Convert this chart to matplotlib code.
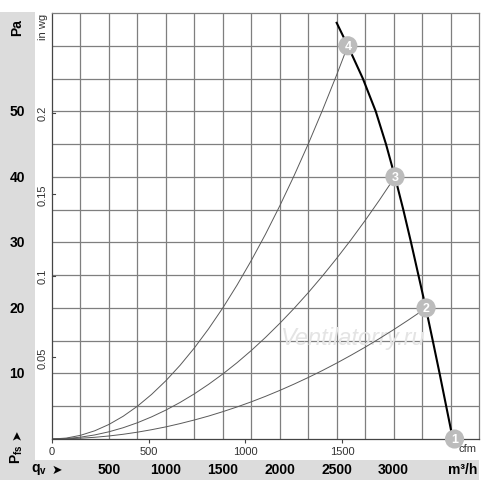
import matplotlib
matplotlib.use("Agg")
import matplotlib.pyplot as plt
from matplotlib.patches import Rectangle

plt.rcParams['font.family'] = ['Liberation Sans', 'DejaVu Sans']

# fan curve (m3/h, Pa)
fan_q = [2500, 2598, 2730, 2843, 2933, 3012, 3085, 3153, 3218, 3283, 3344, 3404, 3462, 3520]
fan_p = [63.5, 60.0, 55.0, 50.0, 45.0, 40.0, 35.0, 30.0, 25.0, 20.0, 15.0, 10.0, 5.0, 0.0]

# system curves
sys4_q = [0, 125, 250, 375, 500, 625, 750, 875, 1000, 1125, 1250, 1375, 1500, 1625,
          1750, 1875, 2000, 2125, 2250, 2375, 2500, 2598]
sys4_p = [0, 0.14, 0.56, 1.25, 2.22, 3.47, 5.0, 6.81, 8.89, 11.25, 13.89, 16.81, 20.0,
          23.48, 27.23, 31.25, 35.56, 40.14, 45.0, 50.15, 55.56, 60.0]
sys3_q = [0, 125, 250, 375, 500, 625, 750, 875, 1000, 1125, 1250, 1375, 1500, 1625,
          1750, 1875, 2000, 2125, 2250, 2375, 2500, 2625, 2750, 2875, 3000, 3012]
sys3_p = [0, 0.07, 0.28, 0.62, 1.10, 1.72, 2.48, 3.38, 4.41, 5.58, 6.89, 8.34, 9.92,
          11.64, 13.50, 15.50, 17.64, 19.91, 22.32, 24.87, 27.56, 30.38, 33.34, 36.44,
          39.68, 40.0]
sys2_q = [0, 125, 250, 375, 500, 625, 750, 875, 1000, 1125, 1250, 1375, 1500, 1625,
          1750, 1875, 2000, 2125, 2250, 2375, 2500, 2625, 2750, 2875, 3000, 3125, 3250, 3285]
sys2_p = [0, 0.03, 0.12, 0.26, 0.46, 0.72, 1.04, 1.42, 1.85, 2.35, 2.90, 3.50, 4.17,
          4.89, 5.67, 6.51, 7.41, 8.37, 9.38, 10.45, 11.58, 12.77, 14.01, 15.32, 16.68,
          18.10, 19.57, 20.0]

# operating points
op_labels = ['1', '2', '3', '4']
op_q = [3535, 3285, 3012, 2598]
op_p = [0.0, 20.0, 40.0, 60.0]

pa_ticks = [10, 20, 30, 40, 50]
m3h_ticks = [500, 1000, 1500, 2000, 2500, 3000]
cfm_ticks = [0, 500, 1000, 1500]
inwg_ticks = [0.05, 0.1, 0.15, 0.2]

CFM = 1.699
INWG = 249.09
grid_c = '#7f7f7f'
panel_c = '#dcdcdc'

fig = plt.figure(figsize=(5.0, 4.81), dpi=100)
fig.patch.set_facecolor('white')

# grey label panels
fig.patches.append(Rectangle((0, 0), 35 / 500, 1 - 13 / 481, transform=fig.transFigure,
                             facecolor=panel_c, edgecolor='none', zorder=0))
fig.patches.append(Rectangle((0, 0), 479 / 500, 20 / 481, transform=fig.transFigure,
                             facecolor=panel_c, edgecolor='none', zorder=0))

ax = fig.add_axes([52 / 500, 1 - 440 / 481, 427 / 500, 426 / 481])
ax.set_xlim(0, 3750)
ax.set_ylim(0, 65)
for v in range(250, 3750, 250):
    ax.axvline(v, color=grid_c, lw=0.9, zorder=1)
for v in range(5, 65, 5):
    ax.axhline(v, color=grid_c, lw=0.9, zorder=1)
for s in ax.spines.values():
    s.set_color(grid_c)
    s.set_linewidth(0.9)
ax.spines['bottom'].set_color('#444444')
ax.spines['left'].set_color('#444444')

ax.set_yticks([])
ax.set_xticks([c * CFM for c in cfm_ticks])
ax.set_xticklabels([str(c) for c in cfm_ticks], fontsize=8, color='#333333')
ax.tick_params(axis='x', length=3, width=0.8, color='#444444', pad=2)
ax.text(3645, -1.4, 'cfm', fontsize=8, color='#333333', ha='center', va='center')

# in wg ticks
for w in inwg_ticks:
    ax.plot([0, 25], [w * INWG, w * INWG], color='#444444', lw=0.8, clip_on=False, zorder=3)
    ax.text(-80, w * INWG, f'{w:g}', rotation=90, fontsize=8, color='#333333',
            ha='center', va='center')
ax.text(-80, 63.0, 'in wg', rotation=90, fontsize=8, color='#333333', ha='center', va='center')

# curves
ax.plot(sys4_q, sys4_p, color='#5a5a5a', lw=0.7, zorder=2)
ax.plot(sys3_q, sys3_p, color='#5a5a5a', lw=0.7, zorder=2)
ax.plot(sys2_q, sys2_p, color='#5a5a5a', lw=0.7, zorder=2)
ax.plot(fan_q, fan_p, color='black', lw=1.5, zorder=3)

for lab, q, p in zip(op_labels, op_q, op_p):
    ax.scatter([q], [p], s=190, color='#bcbcbc', edgecolors='none', zorder=4, clip_on=False)
    ax.text(q, p, lab, color='white', fontsize=9, fontweight='bold', ha='center',
            va='center', zorder=5)

ax.text(2650, 15.5, 'Ventilatorry.ru', fontsize=17, style='italic', color='#e4e4e4',
        ha='center', va='center', zorder=1.5)

# left panel labels
fig.text(17 / 500, 1 - 28 / 481, 'Pa', rotation=90, fontsize=10, fontweight='bold',
         ha='center', va='center')
for p in pa_ticks:
    yf = (440 - p * 426 / 65) / 481
    fig.text(17 / 500, 1 - yf, str(p), fontsize=10, fontweight='bold', ha='center', va='center')
fig.text(17 / 500, 1 - 454 / 481, 'P$_{\\mathregular{fs}}$', rotation=90, fontsize=10,
         fontweight='bold', ha='center', va='center')
fig.text(17 / 500, 1 - 435 / 481, '➤', rotation=90, fontsize=9, ha='center', va='center',
         family=['DejaVu Sans'])

# bottom labels
fig.text(39 / 500, 11 / 481, 'q$_{\\mathregular{v}}$', fontsize=10, fontweight='bold',
         ha='center', va='center')
fig.text(57 / 500, 11 / 481, '➤', fontsize=9, ha='center', va='center', family=['DejaVu Sans'])
for m in m3h_ticks:
    xf = (52 + m * 427 / 3750) / 500
    fig.text(xf, 11 / 481, str(m), fontsize=10, fontweight='bold', ha='center', va='center')
fig.text(463 / 500, 11 / 481, 'm³/h', fontsize=10, fontweight='bold', ha='center', va='center')

fig.savefig('out.png', dpi=100)
